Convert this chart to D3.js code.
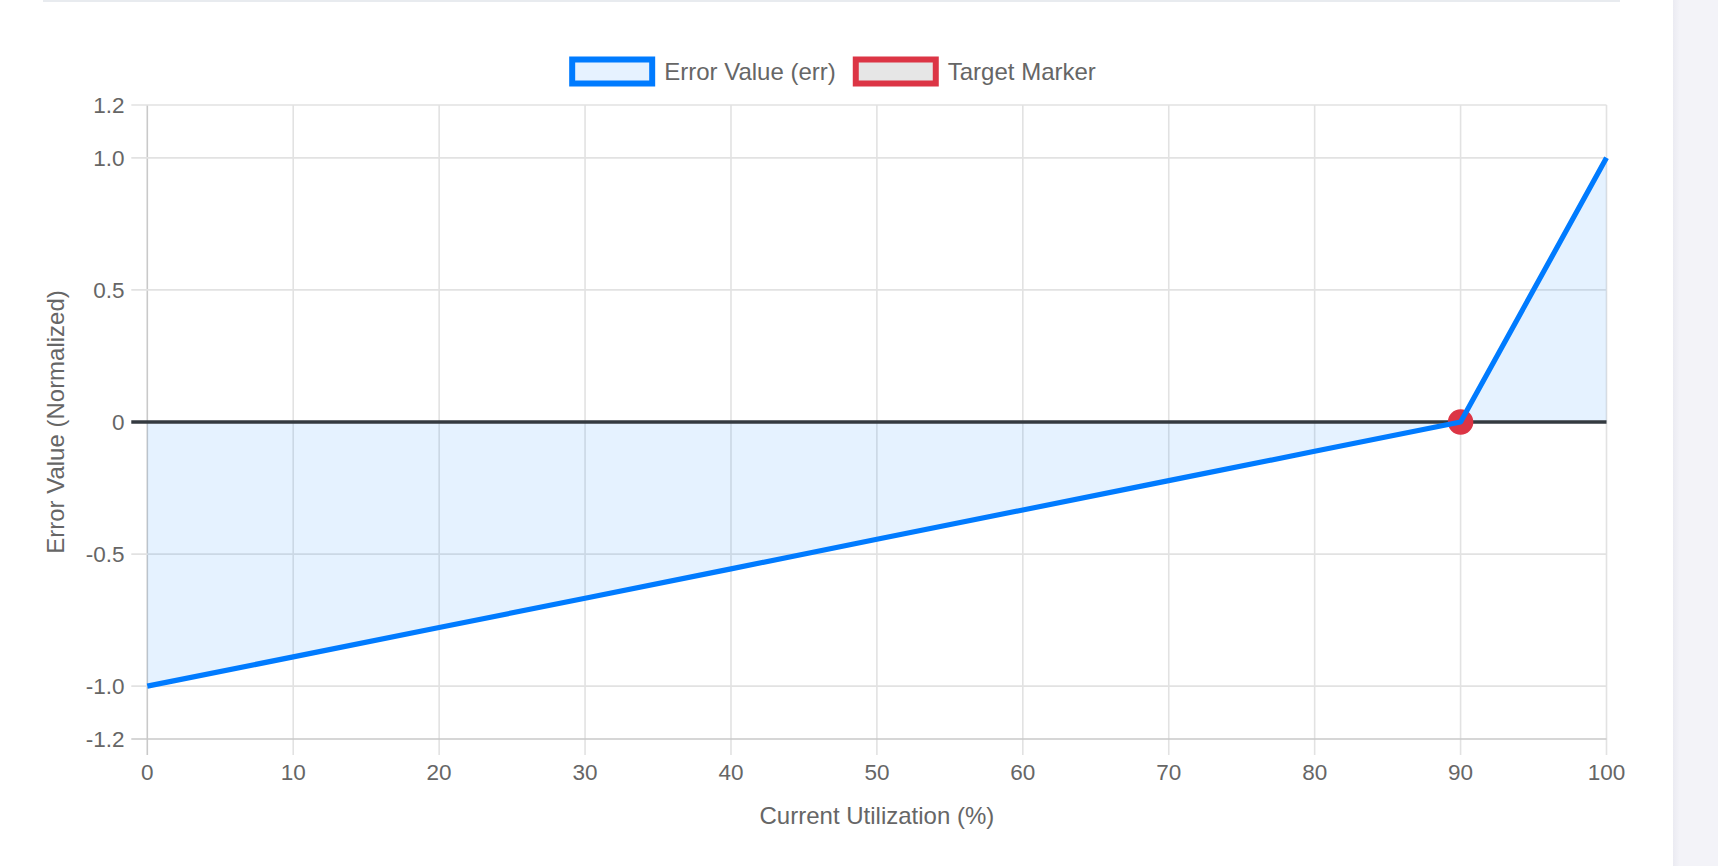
<!DOCTYPE html>
<html>
<head>
<meta charset="utf-8">
<script src="https://cdn.jsdelivr.net/npm/d3@7"></script>
<style>
  html, body { margin: 0; padding: 0; background: #fff; }
  svg { display: block; }
  text { font-family: "Liberation Sans", Arial, Helvetica, sans-serif; fill: #666; }
</style>
</head>
<body>
<div id="viz"></div>
<script>
// chart values
const utilization = [0, 10, 20, 30, 40, 50, 60, 70, 80, 90, 100];
const errValues = [-1, -0.889, -0.778, -0.667, -0.556, -0.444, -0.333, -0.222, -0.111, 0, 1];
const targetPoint = [{ x: 90, y: 0 }];
const xTicks = [0, 10, 20, 30, 40, 50, 60, 70, 80, 90, 100];
const yTicks = [1.2, 1.0, 0.5, 0, -0.5, -1.0, -1.2];
const legendItems = [
  { label: 'Error Value (err)', stroke: '#007bff', fill: '#e6f2ff' },
  { label: 'Target Marker', stroke: '#dc3545', fill: '#e6e6e6' }
];

const WIDTH = 1718;
const HEIGHT = 866;
const PLOT = { left: 147.3, right: 1606.5, top: 105, bottom: 739 };
const TICK_LEN = 16;

const svg = d3.select('#viz').append('svg')
  .attr('width', WIDTH)
  .attr('height', HEIGHT);

// page furniture: card edge on top, side panel on the right
svg.append('rect')
  .attr('x', 43).attr('y', 0).attr('width', 1577).attr('height', 2)
  .attr('fill', '#e8ebef');
const grad = svg.append('defs').append('linearGradient').attr('id', 'side');
grad.append('stop').attr('offset', '0%').attr('stop-color', '#ebebf2');
grad.append('stop').attr('offset', '15%').attr('stop-color', '#f3f3f8');
svg.append('rect')
  .attr('x', 1673).attr('y', 0).attr('width', WIDTH - 1673).attr('height', HEIGHT)
  .attr('fill', 'url(#side)');

const xScale = d3.scaleLinear().domain([0, 100]).range([PLOT.left, PLOT.right]);
const yScale = d3.scaleLinear().domain([-1.2, 1.2]).range([PLOT.bottom, PLOT.top]);

const data = utilization.map((u, i) => ({ x: u, y: errValues[i] }));

// grid
const grid = svg.append('g').attr('class', 'grid');
grid.selectAll('.vgrid')
  .data(xTicks)
  .join('line')
  .attr('class', 'vgrid')
  .attr('x1', d => xScale(d)).attr('x2', d => xScale(d))
  .attr('y1', PLOT.top).attr('y2', PLOT.bottom + TICK_LEN)
  .attr('stroke', d => (d === 0 ? '#c9c9c9' : '#e2e2e2'))
  .attr('stroke-width', 1.6);
grid.selectAll('.hgrid')
  .data(yTicks)
  .join('line')
  .attr('class', 'hgrid')
  .attr('x1', PLOT.left - TICK_LEN).attr('x2', PLOT.right)
  .attr('y1', d => yScale(d)).attr('y2', d => yScale(d))
  .attr('stroke', d => (d === -1.2 ? '#c9c9c9' : '#e2e2e2'))
  .attr('stroke-width', 1.6);

// fill to origin
svg.append('path')
  .datum(data)
  .attr('fill', 'rgba(0,123,255,0.1)')
  .attr('d', d3.area()
    .x(d => xScale(d.x))
    .y0(yScale(0))
    .y1(d => yScale(d.y)));

// zero line
svg.append('line')
  .attr('x1', PLOT.left - TICK_LEN).attr('x2', PLOT.right)
  .attr('y1', yScale(0)).attr('y2', yScale(0))
  .attr('stroke', '#343a40')
  .attr('stroke-width', 3.6);

// target marker
svg.selectAll('.target')
  .data(targetPoint)
  .join('circle')
  .attr('class', 'target')
  .attr('cx', d => xScale(d.x))
  .attr('cy', d => yScale(d.y))
  .attr('r', 12)
  .attr('fill', '#dc3545')
  .attr('stroke', '#dc3545')
  .attr('stroke-width', 1.5);

// error line
svg.append('path')
  .datum(data)
  .attr('fill', 'none')
  .attr('stroke', '#007bff')
  .attr('stroke-width', 5.2)
  .attr('stroke-linejoin', 'round')
  .attr('d', d3.line()
    .x(d => xScale(d.x))
    .y(d => yScale(d.y)));

// tick labels
svg.append('g').selectAll('text')
  .data(xTicks)
  .join('text')
  .attr('x', d => xScale(d))
  .attr('y', 780)
  .attr('text-anchor', 'middle')
  .attr('font-size', 22.5)
  .text(d => d);
svg.append('g').selectAll('text')
  .data(yTicks)
  .join('text')
  .attr('x', 124.5)
  .attr('y', d => yScale(d))
  .attr('dy', '0.36em')
  .attr('text-anchor', 'end')
  .attr('font-size', 22.5)
  .text(d => (d === 0 ? '0' : d.toFixed(1)));

// axis titles
svg.append('text')
  .attr('x', (PLOT.left + PLOT.right) / 2)
  .attr('y', 824)
  .attr('text-anchor', 'middle')
  .attr('font-size', 24)
  .text('Current Utilization (%)');
svg.append('text')
  .attr('transform', `translate(64, ${(PLOT.top + PLOT.bottom) / 2}) rotate(-90)`)
  .attr('text-anchor', 'middle')
  .attr('font-size', 24)
  .text('Error Value (Normalized)');

// legend
const legend = svg.append('g').attr('class', 'legend');
const items = legend.selectAll('g')
  .data(legendItems)
  .join('g');
items.append('rect')
  .attr('width', 80).attr('height', 24)
  .attr('fill', d => d.fill)
  .attr('stroke', d => d.stroke)
  .attr('stroke-width', 6);
items.append('text')
  .attr('x', 92)
  .attr('y', 20)
  .attr('font-size', 24)
  .text(d => d.label);

let offset = 0;
const widths = [];
items.each(function () {
  const w = 92 + d3.select(this).select('text').node().getComputedTextLength();
  widths.push(w);
});
const total = d3.sum(widths) + 20 * (widths.length - 1);
const startX = 834 - total / 2;
items.attr('transform', (d, i) => {
  const x = startX + offset;
  offset += widths[i] + 20;
  return `translate(${x}, 59.5)`;
});
</script>
</body>
</html>
